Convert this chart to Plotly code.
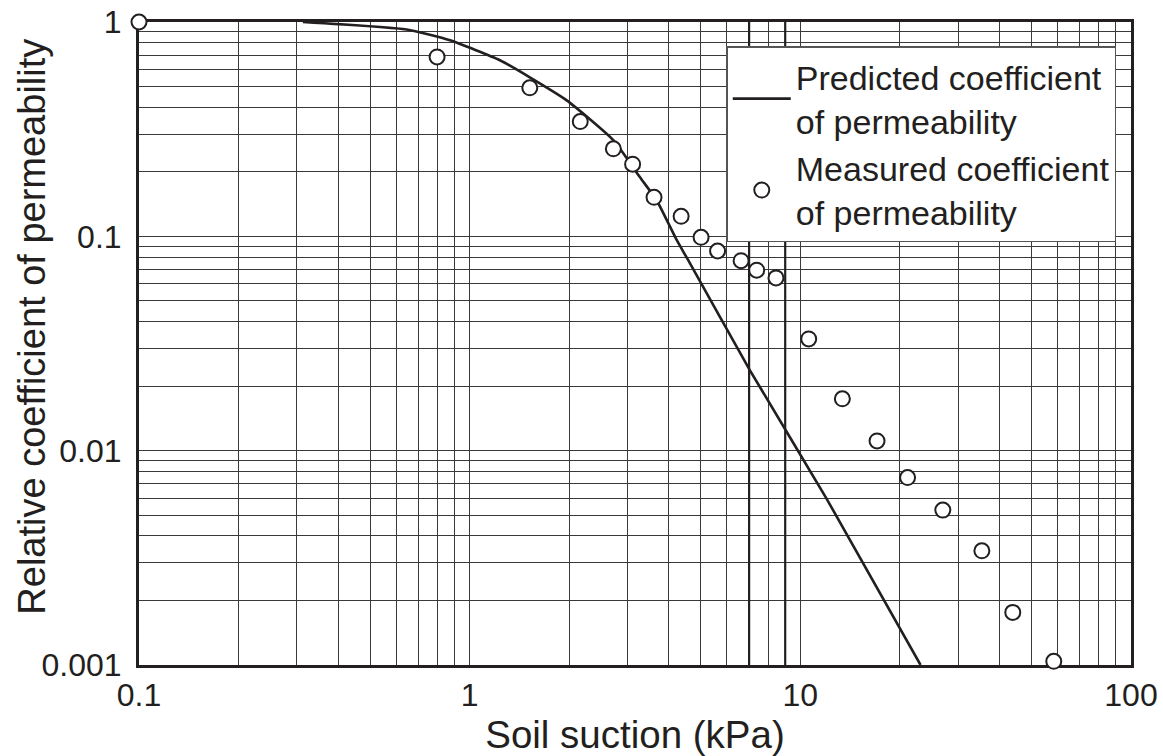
import plotly.graph_objects as go

# Predicted relative permeability curve (soil suction in kPa, relative k)
suction_pred = [0.313, 0.645, 0.872, 1.235, 1.52, 1.966, 2.72, 3.27, 3.68, 4.23, 4.58, 7.04, 12.0, 23.1]
k_pred = [1.0, 0.922, 0.821, 0.663, 0.552, 0.431, 0.281, 0.189, 0.147, 0.0959, 0.0774, 0.0237, 0.00598, 0.001]

# Measured relative permeability
suction_meas = [0.1, 0.797, 1.52, 2.16, 2.72, 3.11, 3.61, 4.36, 5.01, 5.62, 6.62, 7.38, 8.44,
                10.6, 13.4, 17.06, 21.1, 26.97, 35.4, 43.9, 58.4]
k_meas = [1.0, 0.687, 0.493, 0.343, 0.256, 0.217, 0.152, 0.124, 0.0989, 0.0854, 0.077, 0.0695, 0.064,
          0.0332, 0.01746, 0.0111, 0.00749, 0.00528, 0.00341, 0.00176, 0.00104]

x_tickvals = [0.1, 1, 10, 100]
x_ticktext = ["0.1", "1", "10", "100"]
y_tickvals = [0.001, 0.01, 0.1, 1]
y_ticktext = ["0.001", "0.01", "0.1", "1"]

# heavier grid lines printed on the log paper
accent_suction = [7, 9]

minor_x = [m * 10 ** e for e in (-1, 0, 1) for m in range(2, 10)]
minor_y = [m * 10 ** e for e in (-3, -2, -1) for m in range(2, 10)]

INK = "#231f20"
GRID = "#3a3a3a"
FONT = "Liberation Sans, Arial, Helvetica, sans-serif"

fig = go.Figure()

accent_x, accent_y = [], []
for v in accent_suction:
    accent_x += [v, v, None]
    accent_y += [y_tickvals[0], y_tickvals[-1], None]
fig.add_trace(go.Scatter(x=accent_x, y=accent_y, mode="lines",
                         line=dict(color=INK, width=2.2), showlegend=False, hoverinfo="skip"))

fig.add_trace(go.Scatter(
    x=suction_pred, y=k_pred, mode="lines",
    name="Predicted coefficient<br>of permeability",
    line=dict(color=INK, width=2.6, shape="spline", smoothing=0.5),
))
fig.add_trace(go.Scatter(
    x=suction_meas, y=k_meas, mode="markers",
    name="Measured coefficient<br>of permeability",
    marker=dict(symbol="circle", size=15, color="white", line=dict(color=INK, width=2)),
    cliponaxis=False,
))

axis_common = dict(
    type="log", showline=True, linecolor=INK, linewidth=3, mirror=True,
    ticks="", showgrid=True, gridcolor=GRID, gridwidth=1, zeroline=False,
    layer="below traces", automargin=False,
    tickfont=dict(size=32, color=INK, family=FONT),
)

fig.update_xaxes(
    **axis_common, range=[-1, 2],
    tickmode="array", tickvals=x_tickvals, ticktext=x_ticktext,
    minor=dict(tickmode="array", tickvals=minor_x, showgrid=True, gridcolor=GRID, gridwidth=1, ticks=""),
    title=dict(text="Soil suction (kPa)", font=dict(size=38.5, color=INK, family=FONT), standoff=6),
)
fig.update_yaxes(
    **axis_common, range=[-3, 0],
    tickmode="array", tickvals=y_tickvals, ticktext=y_ticktext, ticklabelstandoff=8,
    minor=dict(tickmode="array", tickvals=minor_y, showgrid=True, gridcolor=GRID, gridwidth=1, ticks=""),
)

# y-axis title, set close to the tick labels
fig.add_annotation(
    text="Relative coefficient of permeability", textangle=-90,
    xref="paper", yref="paper", x=-0.108, y=0.526, xanchor="center", yanchor="middle",
    showarrow=False, font=dict(size=38, color=INK, family=FONT),
)

fig.update_layout(
    width=1163, height=756,
    margin=dict(l=139, r=32, t=22, b=91),
    paper_bgcolor="white", plot_bgcolor="white",
    font=dict(family=FONT, color=INK),
    legend=dict(
        x=0.592, y=0.962, xanchor="left", yanchor="top",
        bgcolor="white", bordercolor="#555555", borderwidth=1.5,
        font=dict(size=34, color=INK, family=FONT),
        itemwidth=58, tracegroupgap=0,
    ),
)

fig.write_html("out.html")
